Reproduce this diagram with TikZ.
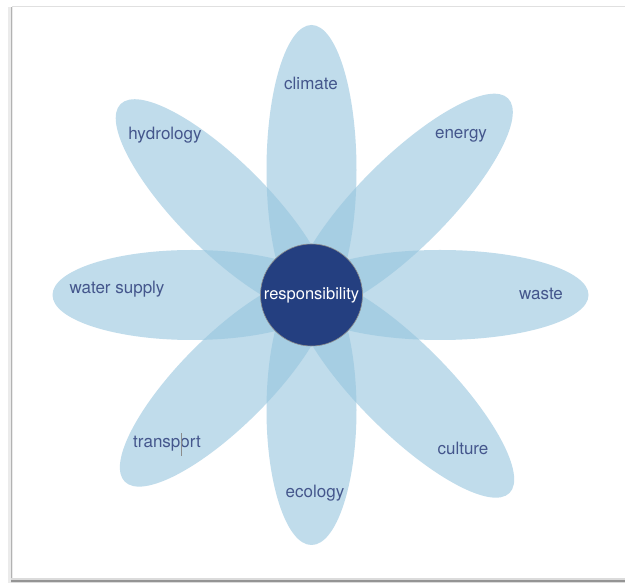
\documentclass[tikz,border=0pt]{standalone}
\usepackage{fontspec}
\setmainfont{TeX Gyre Heros}
\definecolor{petalc}{RGB}{150,197,222}
\definecolor{labelc}{RGB}{68,86,140}
\definecolor{corec}{RGB}{36,63,128}
\tikzset{
  petal/.style={fill=petalc, fill opacity=0.6},
  lbl/.style={text=labelc, font=\fontsize{17}{19}\selectfont, inner sep=0pt},
}
\begin{document}
\begin{tikzpicture}[x=1pt,y=1pt]
\useasboundingbox (0,0) rectangle (625,584);
\fill[white] (0,0) rectangle (625,584);
% frame (image y -> 584 - y)
\fill[black!8] (8,1) rectangle (13,577);
\draw[black!30, line width=1.5pt] (11.5,2) -- (11.5,577);
\draw[black!12, line width=1pt] (12,577.5) -- (625,577.5);
\fill[black!14] (11,1) rectangle (625,6);
\draw[black!42, line width=1.4pt] (11,3) -- (625,3);
\coordinate (C) at (311.5,289);
% petals: angle / tip length
\foreach \ang/\len in {90/270, 45/278, 0/277, -45/280, -90/250, -135/264, 180/259, 135/270}{
  \begin{scope}[shift={(C)}, rotate=\ang]
    \fill[petal] ({(\len-20)/2},0) ellipse [x radius={(\len+20)/2}, y radius=45];
  \end{scope}
}
\node[circle, fill=corec, draw=black!45, line width=0.6pt, minimum size=102pt, inner sep=0pt,
      text=white, font=\fontsize{16.5}{18}\selectfont] (core) at (C) {responsibility};
\node[lbl] (climate) at (311,501) {climate};
\node[lbl] (energy) at (461,448) {energy};
\node[lbl] (waste) at (541,290) {waste};
\node[lbl] (culture) at (463,136) {culture};
\node[lbl] (ecology) at (315,91) {ecology};
\node[lbl] (transport) at (167,140) {transport};
\node[lbl] (water) at (117,295) {water supply};
\node[lbl] (hydrology) at (165,449) {hydrology};
\draw[black!45, line width=0.8pt] (181,128) -- (181,151);
\end{tikzpicture}
\end{document}
